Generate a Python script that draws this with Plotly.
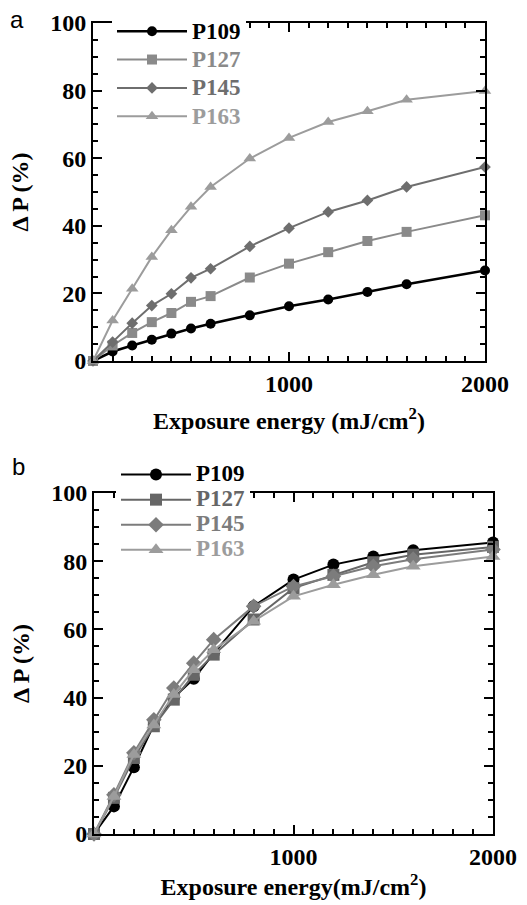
import plotly.graph_objects as go

W, H = 527, 905

energy = [0, 100, 200, 300, 400, 500, 600, 800, 1000, 1200, 1400, 1600, 2000]
names = ["P109", "P127", "P145", "P163"]

# Panel a values (ΔP %)
a_p109 = [0, 2.8, 4.6, 6.3, 8.1, 9.6, 11.0, 13.5, 16.2, 18.2, 20.4, 22.7, 26.8]
a_p127 = [0, 4.6, 8.3, 11.5, 14.2, 17.5, 19.2, 24.7, 28.8, 32.2, 35.5, 38.2, 43.1]
a_p145 = [0, 5.6, 11.2, 16.4, 19.9, 24.6, 27.3, 33.9, 39.3, 44.1, 47.5, 51.5, 57.4]
a_p163 = [0, 12.0, 21.4, 30.8, 38.7, 45.6, 51.5, 59.9, 66.0, 70.7, 73.9, 77.3, 79.9]

# Panel b values (ΔP %)
b_p109 = [0, 8.1, 19.6, 32.0, 40.0, 45.5, 53.0, 66.8, 74.6, 79.0, 81.4, 83.2, 85.5]
b_p127 = [0, 10.6, 22.3, 31.6, 39.4, 46.7, 52.6, 62.9, 72.1, 76.0, 79.7, 81.9, 84.2]
b_p145 = [0, 11.5, 23.8, 33.5, 42.8, 50.1, 57.0, 66.8, 72.6, 75.6, 78.5, 80.6, 83.4]
b_p163 = [0, 11.0, 23.3, 32.0, 40.9, 48.2, 54.0, 62.4, 69.7, 73.1, 76.0, 78.5, 81.4]

x_labelled_ticks = [1000, 2000]
x_unlabelled_ticks = [500, 1500]
y_tickvals = [0, 20, 40, 60, 80, 100]

symbols = ["circle", "square", "diamond", "triangle-up"]
colors_a = ["#000000", "#8a8a8a", "#6e6e6e", "#9c9c9c"]
colors_b = ["#000000", "#666666", "#7c7c7c", "#9c9c9c"]
msize_a = [10, 10, 9, 11]
msize_b = [12, 12, 12, 13]

def xp(px):
    return px / W

def yp(py):
    return 1 - py / H

fig = go.Figure()

LEG_SPAN = "font-size:23px;font-weight:bold;color:{c}"

for i, (nm, ys) in enumerate(zip(names, [a_p109, a_p127, a_p145, a_p163])):
    label = f"<span style='{LEG_SPAN.format(c=colors_a[i])}'>{nm}</span>"
    fig.add_trace(go.Scatter(
        x=energy, y=ys, name=label, mode="lines+markers",
        line=dict(color=colors_a[i], width=2.5 if i == 0 else 2),
        marker=dict(symbol=symbols[i], size=msize_a[i], color=colors_a[i]),
        cliponaxis=False, xaxis="x", yaxis="y", legend="legend",
    ))

for i, (nm, ys) in enumerate(zip(names, [b_p109, b_p127, b_p145, b_p163])):
    label = f"<span style='{LEG_SPAN.format(c=colors_b[i])}'>{nm}</span>"
    fig.add_trace(go.Scatter(
        x=energy, y=ys, name=label, mode="lines+markers",
        line=dict(color=colors_b[i], width=2),
        marker=dict(symbol=symbols[i], size=msize_b[i], color=colors_b[i]),
        cliponaxis=False, xaxis="x2", yaxis="y2", legend="legend2",
    ))

tickfont = dict(family="Liberation Serif", size=24, color="black", weight="bold")
titlefont = dict(family="Liberation Serif", size=24, color="black", weight="bold")

def xaxis_cfg(dom, title, anchor, standoff):
    return dict(
        domain=dom, range=[0, 2000], showline=True, linewidth=2, linecolor="black",
        mirror="ticks", ticks="inside", ticklen=9, tickwidth=2, tickcolor="black",
        tickmode="array", tickvals=x_labelled_ticks, tickfont=tickfont,
        minor=dict(dtick=100, ticks="inside", ticklen=5, tickwidth=1.5, tickcolor="black"),
        showgrid=False, zeroline=False, anchor=anchor,
        title=dict(text=title, font=titlefont, standoff=standoff),
    )

def xaxis_overlay(dom, over, anchor):
    return dict(
        domain=dom, range=[0, 2000], overlaying=over, anchor=anchor,
        showline=True, linewidth=2, linecolor="black", mirror="ticks",
        ticks="inside", ticklen=9, tickwidth=2, tickcolor="black",
        tickmode="array", tickvals=x_unlabelled_ticks, showticklabels=False,
        showgrid=False, zeroline=False,
    )

def yaxis_cfg(dom, anchor):
    return dict(
        domain=dom, range=[0, 100], showline=True, linewidth=2, linecolor="black",
        mirror="ticks", ticks="inside", ticklen=9, tickwidth=2, tickcolor="black",
        tickmode="array", tickvals=y_tickvals, tickfont=tickfont,
        minor=dict(dtick=5, ticks="inside", ticklen=5, tickwidth=1.5, tickcolor="black"),
        showgrid=False, zeroline=False, anchor=anchor,
        title=dict(text="Δ P (%)", font=titlefont, standoff=15),
    )

dom_xa = [xp(93), xp(485)]
dom_xb = [xp(94), xp(493)]

fig.update_layout(
    width=W, height=H,
    margin=dict(l=0, r=0, t=0, b=0, autoexpand=False),
    paper_bgcolor="white", plot_bgcolor="white",
    xaxis=xaxis_cfg(dom_xa, "Exposure energy (mJ/cm<sup>2</sup>)", "y", 16),
    yaxis=yaxis_cfg([yp(361), yp(23)], "x"),
    xaxis2=xaxis_cfg(dom_xb, "Exposure energy(mJ/cm<sup>2</sup>)", "y2", 5),
    yaxis2=yaxis_cfg([yp(834), yp(493)], "x2"),
    xaxis3=xaxis_overlay(dom_xa, "x", "y"),
    xaxis4=xaxis_overlay(dom_xb, "x2", "y2"),
    legend=dict(x=xp(112), y=yp(12), xanchor="left", yanchor="top",
                bgcolor="white", borderwidth=0, itemwidth=70,
                font=dict(family="Liberation Serif", size=19.5, weight="bold")),
    legend2=dict(x=xp(116), y=yp(457), xanchor="left", yanchor="top",
                 bgcolor="white", borderwidth=0, itemwidth=70,
                 font=dict(family="Liberation Serif", size=17, weight="bold")),
    showlegend=True,
    annotations=[
        dict(text="a", x=xp(17), y=yp(20), xref="paper", yref="paper", showarrow=False,
             xanchor="center", yanchor="middle",
             font=dict(family="Liberation Sans", size=24, color="black")),
        dict(text="b", x=xp(18), y=yp(467), xref="paper", yref="paper", showarrow=False,
             xanchor="center", yanchor="middle",
             font=dict(family="Liberation Sans", size=24, color="black")),
    ],
)

fig.write_html("out.html")
